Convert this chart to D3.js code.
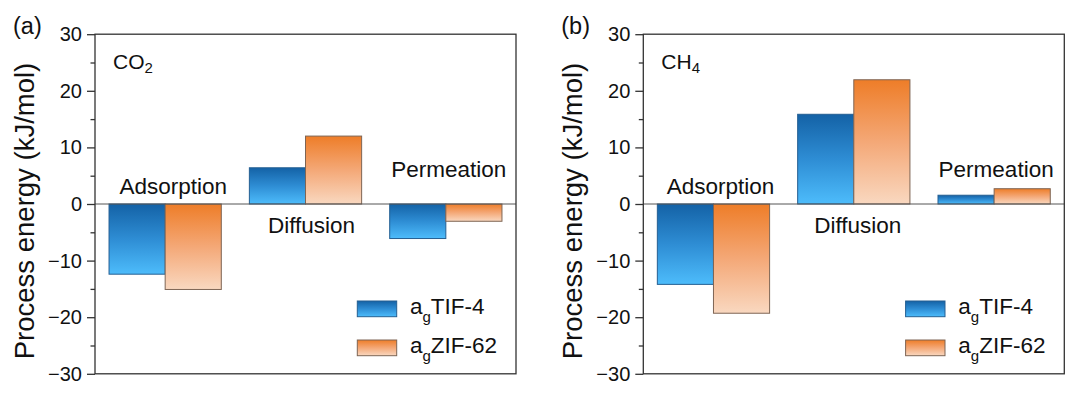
<!DOCTYPE html>
<html>
<head>
<meta charset="utf-8">
<script src="https://cdn.jsdelivr.net/npm/d3@7"></script>
<style>
  body { margin: 0; background: #fff; }
  svg { display: block; font-family: "Liberation Sans", Arial, sans-serif; }
</style>
</head>
<body>
<svg id="chart" width="1080" height="399"></svg>
<script>
// process categories
var categories = ["Adsorption", "Diffusion", "Permeation"];
var seriesNames = ["TIF-4", "ZIF-62"];
// CO2 process energy (kJ/mol)
var co2TIF = [-12.4, 6.4, -6.1];
var co2ZIF = [-15.1, 12.0, -3.05];
// CH4 process energy (kJ/mol)
var ch4TIF = [-14.2, 15.85, 1.55];
var ch4ZIF = [-19.3, 21.95, 2.7];
var yTicks = [-30, -20, -10, 0, 10, 20, 30];
var yMinorTicks = [-25, -15, -5, 5, 15, 25];

var svg = d3.select("#chart");
var defs = svg.append("defs");

// vertical gradients, dark on top, light at bottom
var gradStops = {
  blue: ["#1462a6", "#2e8dd4", "#4dbcfb"],
  orange: ["#ee7d28", "#f4a877", "#f9d8c0"]
};
Object.keys(gradStops).forEach(function(k) {
  var lg = defs.append("linearGradient")
    .attr("id", "grad-" + k)
    .attr("x1", 0).attr("y1", 0).attr("x2", 0).attr("y2", 1);
  gradStops[k].forEach(function(c, i) {
    lg.append("stop").attr("offset", i / (gradStops[k].length - 1)).attr("stop-color", c);
  });
});
var fills = ["url(#grad-blue)", "url(#grad-orange)"];
var strokes = ["#245f92", "#7e6554"];

var plotTop = 34.2, plotBottom = 373.8, plotW = 421;

function drawPanel(left, tag, gas, gasSub, tif, zif, labelShift) {
  var g = svg.append("g");
  var y = d3.scaleLinear().domain([-30, 30]).range([plotBottom, plotTop]);
  var x0 = d3.scaleBand().domain(categories).range([left, left + plotW])
    .paddingInner(0.2).paddingOuter(0.1);
  var x1 = d3.scaleBand().domain(seriesNames).range([0, x0.bandwidth()]);

  var rows = categories.map(function(c, i) {
    return { cat: c, vals: [tif[i], zif[i]] };
  });

  // bars
  var grp = g.selectAll(".grp").data(rows).enter().append("g")
    .attr("transform", function(d) { return "translate(" + x0(d.cat) + ",0)"; });
  grp.selectAll("rect")
    .data(function(d) { return d.vals.map(function(v, j) { return { s: seriesNames[j], v: v, j: j }; }); })
    .enter().append("rect")
    .attr("x", function(d) { return x1(d.s); })
    .attr("y", function(d) { return y(Math.max(0, d.v)); })
    .attr("width", x1.bandwidth())
    .attr("height", function(d) { return Math.abs(y(d.v) - y(0)); })
    .attr("fill", function(d) { return fills[d.j]; })
    .attr("stroke", function(d) { return strokes[d.j]; })
    .attr("stroke-width", 1);

  // zero line
  g.append("line")
    .attr("x1", left).attr("x2", left + plotW)
    .attr("y1", y(0)).attr("y2", y(0))
    .attr("stroke", "#555").attr("stroke-width", 1);

  // frame
  g.append("rect")
    .attr("x", left).attr("y", plotTop)
    .attr("width", plotW).attr("height", plotBottom - plotTop)
    .attr("fill", "none").attr("stroke", "#333").attr("stroke-width", 1.3);

  // y axis
  var ax = g.append("g").attr("transform", "translate(" + left + ",0)")
    .call(d3.axisLeft(y).tickValues(yTicks).tickSize(8).tickPadding(5));
  ax.select(".domain").remove();
  ax.selectAll("line").attr("stroke", "#333").attr("stroke-width", 1.3);
  ax.selectAll("text").attr("font-size", "20px").attr("fill", "#111")
    .attr("font-family", "Liberation Sans, Arial, sans-serif");
  var axm = g.append("g").attr("transform", "translate(" + left + ",0)")
    .call(d3.axisLeft(y).tickValues(yMinorTicks).tickSize(4.5).tickFormat(""));
  axm.select(".domain").remove();
  axm.selectAll("line").attr("stroke", "#333").attr("stroke-width", 1.3);

  // y title
  g.append("text")
    .attr("transform", "translate(" + (left - 61) + "," + ((plotTop + plotBottom) / 2 + 7) + ") rotate(-90)")
    .attr("text-anchor", "middle")
    .attr("font-size", "27.5px").attr("fill", "#111")
    .text("Process energy (kJ/mol)");

  // panel tag
  g.append("text").attr("x", left - 82).attr("y", 34)
    .attr("font-size", "23.5px").attr("fill", "#111").text(tag);

  // gas label
  var gt = g.append("text").attr("x", left + 18).attr("y", 69)
    .attr("font-size", "21px").attr("fill", "#111");
  gt.append("tspan").text(gas);
  gt.append("tspan").attr("font-size", "15px").attr("dy", 4).text(gasSub);

  // category labels
  var labelY = [1.85, -5.2, 4.75];
  g.selectAll(".cat").data(categories).enter().append("text")
    .attr("x", function(d, i) { return x0(d) + x0.bandwidth() / 2 + labelShift[i]; })
    .attr("y", function(d, i) { return y(labelY[i]); })
    .attr("text-anchor", "middle")
    .attr("font-size", "22.5px").attr("fill", "#111")
    .text(function(d) { return d; });

  // legend
  var lg = g.selectAll(".leg").data(seriesNames).enter().append("g")
    .attr("transform", function(d, i) { return "translate(" + (left + 262.3) + "," + (301 + i * 39) + ")"; });
  lg.append("rect")
    .attr("width", 39.4).attr("height", 15.7)
    .attr("fill", function(d, i) { return fills[i]; })
    .attr("stroke", function(d, i) { return strokes[i]; })
    .attr("stroke-width", 1);
  var lt = lg.append("text").attr("x", 52.7).attr("y", 13)
    .attr("font-size", "22.5px").attr("fill", "#111");
  lt.append("tspan").text("a");
  lt.append("tspan").attr("font-size", "15px").attr("dy", 8).text("g");
  lt.append("tspan").attr("dy", -8).text(function(d) { return d; });
}

drawPanel(95, "(a)", "CO", "2", co2TIF, co2ZIF, [8, 6, 3]);
drawPanel(643.3, "(b)", "CH", "4", ch4TIF, ch4ZIF, [7, 4, 2]);
</script>
</body>
</html>
